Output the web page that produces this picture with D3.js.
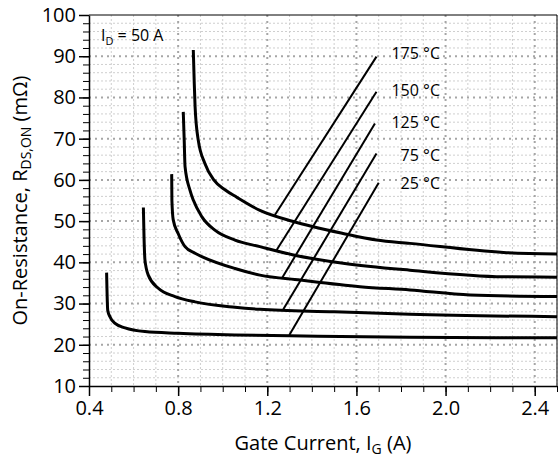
<!DOCTYPE html>
<html lang="en">
<head>
    <meta charset="UTF-8">
    <title>On-Resistance vs Gate Current</title>
    <script src="https://d3js.org/d3.v7.min.js"></script>
    <style>
        body { margin: 0; background: #fff; }
        svg { display: block; font-family: "Open Sans", sans-serif; }
        .major-grid line { stroke: #a6a6a6; stroke-width: 2; stroke-dasharray: 2 4; }
        .minor-grid line { stroke: #cfcfcf; stroke-width: 1; stroke-dasharray: 2 2; }
        .axis path, .axis line { stroke: #000; }
        .axis text { font-size: 20px; fill: #000; font-family: "Open Sans", sans-serif; }
        .curve { fill: none; stroke: #000; stroke-width: 3; }
        .temp-line { stroke: #000; stroke-width: 2; }
        .temp-label { font-size: 16px; }
    </style>
</head>
<body>
    <svg width="558" height="461"></svg>

    <script>
        // values
        const temps = ["25 °C", "75 °C", "125 °C", "150 °C", "175 °C"];

        const ig25 = [0.479, 0.484, 0.494, 0.517, 0.562, 0.651, 0.80, 1.055, 1.30, 1.84, 2.5];
        const rds25 = [37.5, 28.4, 26.8, 25.2, 24.1, 23.2, 22.8, 22.4, 22.2, 21.8, 21.7];

        const ig75 = [0.644, 0.647, 0.651, 0.666, 0.711, 0.786, 0.876, 1.055, 1.167, 1.50, 1.84, 2.5];
        const rds75 = [53.3, 46.0, 40.6, 36.9, 33.7, 31.7, 30.4, 29.1, 28.6, 28.0, 27.4, 26.8];

        const ig125 = [0.771, 0.772, 0.778, 0.80, 0.831, 0.876, 0.906, 1.055, 1.167, 1.347, 1.616, 1.84, 2.11, 2.5];
        const rds125 = [61.4, 55.0, 50.3, 47.0, 43.8, 42.2, 41.4, 38.5, 36.9, 35.7, 34.1, 33.3, 32.1, 31.7];

        const ig150 = [0.823, 0.827, 0.831, 0.853, 0.868, 0.906, 0.965, 1.055, 1.167, 1.317, 1.54, 1.84, 2.26, 2.5];
        const rds150 = [76.5, 70.0, 63.2, 57.5, 55.1, 51.1, 47.8, 45.4, 43.8, 41.8, 39.8, 38.1, 36.5, 36.4];

        const ig175 = [0.868, 0.872, 0.876, 0.89, 0.92, 0.96, 1.01, 1.063, 1.167, 1.317, 1.54, 1.69, 1.84, 2.26, 2.5];
        const rds175 = [91.5, 84.0, 77.8, 69.7, 64.0, 60.0, 57.6, 55.8, 52.6, 49.9, 47.0, 45.4, 44.6, 42.4, 42.0];

        // leader lines from each curve up to its label: [start, end]
        const leaderIg = [[1.299, 1.70], [1.272, 1.69], [1.265, 1.683], [1.242, 1.69], [1.234, 1.69]];
        const leaderRds = [[22.4, 59.3], [28.6, 66.4], [36.1, 73.7], [43.0, 81.4], [51.5, 89.9]];
        const labelIg = 1.975;
        const labelRds = [59.2, 66.0, 74.0, 81.8, 90.8];

        const xMajor = [0.4, 0.8, 1.2, 1.6, 2.0, 2.4];
        const yMajor = [10, 20, 30, 40, 50, 60, 70, 80, 90, 100];

        const curveIg = [ig25, ig75, ig125, ig150, ig175];
        const curveRds = [rds25, rds75, rds125, rds150, rds175];

        const margin = { top: 15, right: 1, bottom: 75, left: 89 };
        const width = 558 - margin.left - margin.right;
        const height = 461 - margin.top - margin.bottom;

        const svg = d3.select("svg")
            .append("g")
            .attr("transform", "translate(" + margin.left + "," + margin.top + ")");

        const x = d3.scaleLinear().domain([0.4, 2.5]).range([0, width]);
        const y = d3.scaleLinear().domain([10, 100]).range([height, 0]);

        const xMinor = d3.range(0.4, 2.501, 0.1).map(d => +d.toFixed(1));
        const yMinor = d3.range(10, 100.1, 2);

        // minor grid
        const minor = svg.append("g").attr("class", "minor-grid");
        minor.selectAll(".vx").data(xMinor.filter(d => xMajor.indexOf(d) < 0 && d > 0.4))
            .enter().append("line")
            .attr("x1", d => x(d)).attr("x2", d => x(d))
            .attr("y1", 0).attr("y2", height);
        minor.selectAll(".hy").data(yMinor.filter(d => d % 10 !== 0))
            .enter().append("line")
            .attr("y1", d => y(d)).attr("y2", d => y(d))
            .attr("x1", 0).attr("x2", width);

        // major grid
        const major = svg.append("g").attr("class", "major-grid");
        major.selectAll(".vx").data(xMajor.filter(d => d > 0.4))
            .enter().append("line")
            .attr("x1", d => x(d)).attr("x2", d => x(d))
            .attr("y1", 0).attr("y2", height);
        major.selectAll(".hy").data(yMajor.filter(d => d > 10 && d < 100))
            .enter().append("line")
            .attr("y1", d => y(d)).attr("y2", d => y(d))
            .attr("x1", 0).attr("x2", width);

        // frame top/right
        svg.append("path")
            .attr("d", "M0,0H" + width + "V" + height)
            .attr("fill", "none")
            .attr("stroke", "#000")
            .attr("stroke-width", 1);

        // axes: minor ticks then major ticks with labels
        svg.append("g").attr("class", "axis")
            .attr("transform", "translate(0," + height + ")")
            .call(d3.axisBottom(x).tickValues(xMinor).tickSize(6).tickFormat(""))
            .call(g => g.select(".domain").remove());
        svg.append("g").attr("class", "axis")
            .attr("transform", "translate(0," + height + ")")
            .call(d3.axisBottom(x).tickValues(xMajor).tickSize(10).tickSizeOuter(0).tickPadding(5).tickFormat(d3.format(".1f")))
            .call(g => g.selectAll("line, path").attr("stroke-width", 1.5));

        svg.append("g").attr("class", "axis")
            .call(d3.axisLeft(y).tickValues(yMinor).tickSize(6).tickFormat(""))
            .call(g => g.select(".domain").remove());
        svg.append("g").attr("class", "axis")
            .call(d3.axisLeft(y).tickValues(yMajor).tickSize(10).tickSizeOuter(0).tickPadding(3))
            .call(g => g.selectAll("line, path").attr("stroke-width", 1.5));

        // curves
        const line = d3.line()
            .x(d => x(d[0]))
            .y(d => y(d[1]))
            .curve(d3.curveMonotoneX);

        svg.selectAll(".curve")
            .data(curveIg.map((ig, i) => ig.map((v, j) => [v, curveRds[i][j]])))
            .enter().append("path")
            .attr("class", "curve")
            .attr("d", line);

        // leader lines
        svg.selectAll(".temp-line")
            .data(temps)
            .enter().append("line")
            .attr("class", "temp-line")
            .attr("x1", (d, i) => x(leaderIg[i][0]))
            .attr("y1", (d, i) => y(leaderRds[i][0]))
            .attr("x2", (d, i) => x(leaderIg[i][1]))
            .attr("y2", (d, i) => y(leaderRds[i][1]));

        svg.selectAll(".temp-label")
            .data(temps)
            .enter().append("text")
            .attr("class", "temp-label")
            .attr("x", x(labelIg))
            .attr("y", (d, i) => y(labelRds[i]))
            .attr("dy", "0.35em")
            .attr("text-anchor", "end")
            .text(d => d);

        // I_D annotation
        const note = svg.append("text")
            .attr("x", 12)
            .attr("y", 26)
            .attr("font-size", 16);
        note.append("tspan").text("I");
        note.append("tspan").attr("font-size", 11).attr("dy", 4).text("D");
        note.append("tspan").attr("dy", -4).text(" = 50 A");

        // axis titles
        const xTitle = svg.append("text")
            .attr("x", width / 2)
            .attr("y", 435)
            .attr("text-anchor", "middle")
            .attr("font-size", 20);
        xTitle.append("tspan").text("Gate Current, I");
        xTitle.append("tspan").attr("font-size", 14).attr("dy", 4).text("G");
        xTitle.append("tspan").attr("dy", -4).text(" (A)");

        const yTitle = svg.append("text")
            .attr("transform", "translate(-62," + (height / 2) + ") rotate(-90)")
            .attr("text-anchor", "middle")
            .attr("font-size", 20);
        yTitle.append("tspan").text("On-Resistance, R");
        yTitle.append("tspan").attr("font-size", 14).attr("dy", 4).text("DS,ON");
        yTitle.append("tspan").attr("dy", -4).text(" (mΩ)");
    </script>
</body>
</html>
